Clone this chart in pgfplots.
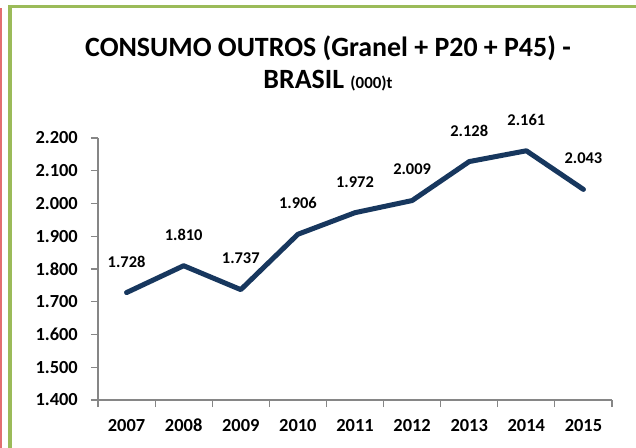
\documentclass[border=0pt]{standalone}
\usepackage{pgfplots}
\pgfplotsset{compat=1.18}
\usepackage{fontspec}
\setmainfont{Carlito}
\definecolor{navy}{RGB}{23,55,94}
\definecolor{xlgreen}{RGB}{155,187,89}
\definecolor{axgray}{RGB}{134,134,134}
\definecolor{redl}{RGB}{226,110,112}
\begin{document}
\begin{tikzpicture}
\path[use as bounding box] (0,0) rectangle (636bp,448bp);
\fill[white] (0,0) rectangle (636bp,448bp);
\fill[redl] (0,0) rectangle (2bp,440bp);
\fill[xlgreen] (8bp,0) rectangle (12bp,443bp);
\fill[xlgreen] (8bp,440bp) rectangle (636bp,443bp);
\node[anchor=base,inner sep=0pt] at (328bp,391bp) {\fontsize{28}{28}\selectfont\bfseries CONSUMO OUTROS (Granel + P20 + P45) -};
\node[anchor=base,inner sep=0pt] at (328bp,359bp) {\fontsize{28}{28}\selectfont\bfseries BRASIL {\fontsize{17}{17}\selectfont (000)t}};
\begin{axis}[
  at={(98bp,48bp)}, anchor=south west,
  scale only axis, width=514bp, height=262bp,
  xmin=-0.5, xmax=8.5, ymin=1.4, ymax=2.2,
  axis x line*=bottom, axis y line*=left,
  axis line style={axgray, line width=1.2bp},
  every tick/.style={axgray, line width=1.2bp},
  tick align=outside, major tick length=7bp,
  xtick={-0.5,0.5,1.5,2.5,3.5,4.5,5.5,6.5,7.5,8.5},
  x tick label as interval,
  xticklabels={2007,2008,2009,2010,2011,2012,2013,2014,2015},
  ytick={1.4,1.5,1.6,1.7,1.8,1.9,2.0,2.1,2.2},
  /pgf/number format/assume math mode=true,
  /pgf/number format/.cd, fixed, precision=3, zerofill, 1000 sep={}, /pgfplots/.cd,
  yticklabel style={font=\fontsize{18.5}{18.5}\selectfont\bfseries, inner sep=0pt, anchor=east, xshift=-13bp},
  xticklabel style={font=\fontsize{18.5}{18.5}\selectfont\bfseries, inner sep=0pt, text height=12bp, text depth=0pt, anchor=center, yshift=-18bp},
  clip=false,
  nodes near coords,
  every node near coord/.append style={font=\fontsize{16.5}{16.5}\selectfont\bfseries, inner sep=0pt, anchor=center, yshift=31bp, text=black},
]
\addplot[navy, line width=5bp, line cap=round, line join=round, mark=none] coordinates {
(0,1.728) (1,1.810) (2,1.737) (3,1.906) (4,1.972) (5,2.009) (6,2.128) (7,2.161) (8,2.043)
};
\end{axis}
\end{tikzpicture}
\end{document}
